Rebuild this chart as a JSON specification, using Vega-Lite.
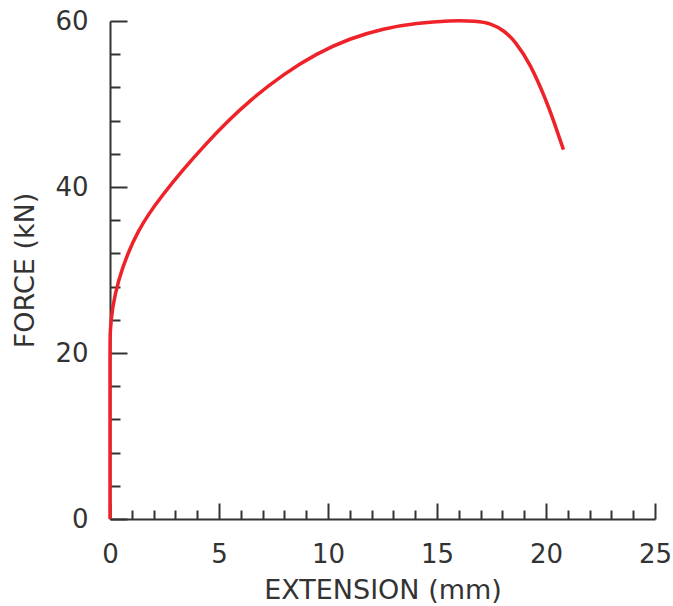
{
  "$schema": "https://vega.github.io/schema/vega-lite/v6.json",
  "width": 545,
  "height": 498,
  "autosize": {"type": "none"},
  "padding": {"left": 110, "top": 21, "right": 18, "bottom": 87},
  "background": "white",
  "config": {
    "view": {"stroke": null},
    "axis": {"grid": false, "labelFont": "DejaVu Sans", "titleFont": "DejaVu Sans", "labelColor": "#333333", "titleColor": "#333333", "domainColor": "#333333", "tickColor": "#333333", "domainWidth": 2, "tickWidth": 2, "labelFontSize": 26, "titleFontSize": 27, "titleFontWeight": "normal"}
  },
  "data": {"values": [
    {"i": 0, "ext": 0, "force": 0},
    {"i": 1, "ext": 0, "force": 10},
    {"i": 2, "ext": 0, "force": 20},
    {"i": 3, "ext": 0, "force": 22.6},
    {"i": 4, "ext": 0.1, "force": 25.4},
    {"i": 5, "ext": 0.38, "force": 28.8},
    {"i": 6, "ext": 0.84, "force": 32.2},
    {"i": 7, "ext": 1.3, "force": 34.7},
    {"i": 8, "ext": 1.76, "force": 36.7},
    {"i": 9, "ext": 2.37, "force": 38.9},
    {"i": 10, "ext": 3.29, "force": 41.9},
    {"i": 11, "ext": 4.36, "force": 45.1},
    {"i": 12, "ext": 5.43, "force": 48.0},
    {"i": 13, "ext": 6.4, "force": 50.4},
    {"i": 14, "ext": 7.95, "force": 53.6},
    {"i": 15, "ext": 9.48, "force": 56.1},
    {"i": 16, "ext": 11.0, "force": 57.9},
    {"i": 17, "ext": 12.54, "force": 59.1},
    {"i": 18, "ext": 14.07, "force": 59.75},
    {"i": 19, "ext": 15.6, "force": 60.05},
    {"i": 20, "ext": 16.8, "force": 60.0},
    {"i": 21, "ext": 17.5, "force": 59.7},
    {"i": 22, "ext": 18.1, "force": 58.8},
    {"i": 23, "ext": 18.6, "force": 57.5},
    {"i": 24, "ext": 19.27, "force": 54.9},
    {"i": 25, "ext": 20.0, "force": 50.5},
    {"i": 26, "ext": 20.4, "force": 47.6},
    {"i": 27, "ext": 20.8, "force": 44.5}
  ]},
  "layer": [
    {
      "mark": {"type": "line", "color": "#ee2229", "strokeWidth": 3.5, "interpolate": "basis"},
      "encoding": {
        "x": {"field": "ext", "type": "quantitative", "scale": {"domain": [0, 25], "nice": false, "zero": false},
          "axis": {"orient": "bottom", "values": [0, 5, 10, 15, 20, 25], "tickSize": -16, "labelPadding": 38, "title": "EXTENSION (mm)", "titlePadding": 10, "labelFlush": false}},
        "y": {"field": "force", "type": "quantitative", "scale": {"domain": [0, 60], "nice": false, "zero": false},
          "axis": {"orient": "left", "values": [0, 20, 40, 60], "tickSize": -17, "labelPadding": 39, "title": "FORCE (kN)", "titlePadding": 15, "labelFlush": false}},
        "order": {"field": "i", "type": "quantitative"}
      }
    },
    {
      "mark": {"type": "line", "strokeOpacity": 0},
      "encoding": {
        "x": {"field": "ext", "type": "quantitative", "scale": {"domain": [0, 25], "nice": false, "zero": false},
          "axis": {"orient": "bottom", "values": [1, 2, 3, 4, 6, 7, 8, 9, 11, 12, 13, 14, 16, 17, 18, 19, 21, 22, 23, 24], "tickSize": -9, "labels": false, "domain": false, "title": null}},
        "y": {"field": "force", "type": "quantitative", "scale": {"domain": [0, 60], "nice": false, "zero": false},
          "axis": {"orient": "left", "values": [4, 8, 12, 16, 24, 28, 32, 36, 44, 48, 52, 56], "tickSize": -10, "labels": false, "domain": false, "title": null}},
        "order": {"field": "i", "type": "quantitative"}
      }
    }
  ],
  "resolve": {"axis": {"x": "independent", "y": "independent"}}
}
